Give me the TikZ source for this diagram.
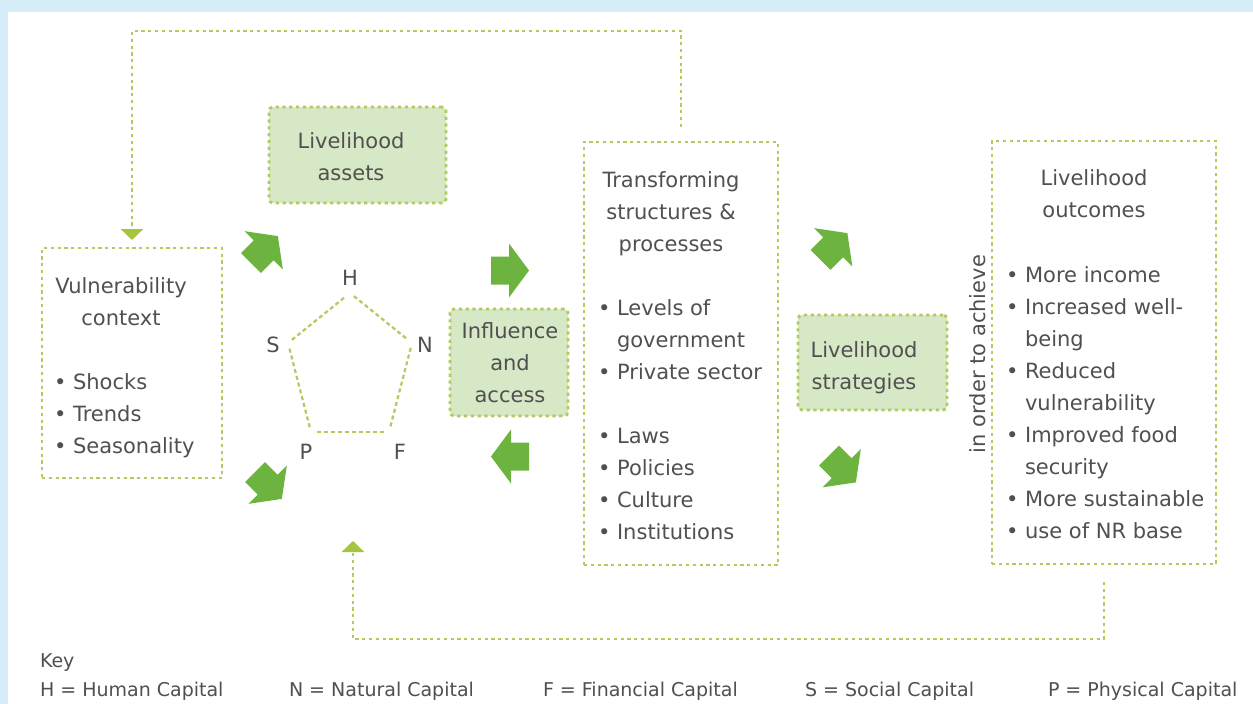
\documentclass[tikz,border=0pt]{standalone}
\usepackage{fontspec}
\setmainfont{DejaVu Sans}
\usetikzlibrary{arrows.meta}
\definecolor{bgblue}{HTML}{D6ECF9}
\definecolor{dotgreen}{HTML}{B0CB5E}
\definecolor{tipgreen}{HTML}{A4C53C}
\definecolor{fillgreen}{HTML}{D6E8C5}
\definecolor{arrowgreen}{HTML}{6CB33F}
\definecolor{txtgray}{HTML}{505050}
\begin{document}
\begin{tikzpicture}[x=1pt,y=-1pt,
  dotline/.style={draw=dotgreen, line width=2.8pt, dash pattern=on 3.2pt off 3.6pt},
  whitebox/.style={dotline, inner sep=0pt, outer sep=0pt},
  greenbox/.style={dotline, fill=fillgreen, rounded corners=4pt, inner sep=0pt, outer sep=0pt},
  conn/.style={dotline, -{Triangle[width=22pt,length=11pt,color=tipgreen,fill=tipgreen]}},
  pentline/.style={draw=dotgreen, line width=2.2pt, dash pattern=on 4pt off 3pt, shorten <=5pt, shorten >=5pt},
  txt/.style={text=txtgray, font=\fontsize{21}{32}\selectfont, inner sep=0pt, outer sep=0pt},
  keytxt/.style={text=txtgray, font=\fontsize{19}{24}\selectfont, inner sep=0pt, outer sep=0pt, anchor=base west},
  blockarrow/.pic={\fill[arrowgreen] (0,-14) -- (18,-14) -- (18,-27) -- (38,0) -- (18,27) -- (18,14) -- (0,14) -- cycle;}
]
\useasboundingbox (0,0) rectangle (1253,704);
\fill[bgblue] (0,0) rectangle (1253,704);
\fill[white] (8,12) rectangle (1253,704);

% boxes
\node[whitebox, minimum width=180pt, minimum height=230pt] (vuln) at (132,363) {};
\node[greenbox, minimum width=177pt, minimum height=96pt] (assets) at (357.5,155) {};
\node[greenbox, minimum width=118pt, minimum height=107pt] (infl) at (509,362.5) {};
\node[whitebox, minimum width=194pt, minimum height=423pt] (trans) at (681,353.5) {};
\node[greenbox, minimum width=149pt, minimum height=95pt] (strat) at (872.5,362.5) {};
\node[whitebox, minimum width=224pt, minimum height=423pt] (outc) at (1104,352.5) {};

% vulnerability context
\node[txt, anchor=base] (vt1) at (121,293) {Vulnerability};
\node[txt, anchor=base] (vt2) at (121,325) {context};
\node[txt, anchor=base west] (vb1) at (54,389) {\textbullet\ Shocks};
\node[txt, anchor=base west] (vb2) at (54,421) {\textbullet\ Trends};
\node[txt, anchor=base west] (vb3) at (54,453) {\textbullet\ Seasonality};

% livelihood assets
\node[txt, anchor=base] (at1) at (351,148) {Livelihood};
\node[txt, anchor=base] (at2) at (351,180) {assets};

% pentagon
\coordinate (pT) at (350,293);
\coordinate (pR) at (412,343);
\coordinate (pBR) at (389,432);
\coordinate (pBL) at (311,432);
\coordinate (pL) at (288,343);
\draw[pentline] (pT) -- (pR);
\draw[pentline] (pR) -- (pBR);
\draw[pentline] (pBR) -- (pBL);
\draw[pentline] (pBL) -- (pL);
\draw[pentline] (pL) -- (pT);
\node[txt] (lH) at (350,278) {H};
\node[txt] (lS) at (273,345) {S};
\node[txt] (lN) at (425,345) {N};
\node[txt] (lP) at (306,452) {P};
\node[txt] (lF) at (400,452) {F};

% influence and access
\node[txt, anchor=base] (it1) at (510,338) {Influence};
\node[txt, anchor=base] (it2) at (510,370) {and};
\node[txt, anchor=base] (it3) at (510,402) {access};

% transforming structures
\node[txt, anchor=base] (tt1) at (671,187) {Transforming};
\node[txt, anchor=base] (tt2) at (671,219) {structures \&};
\node[txt, anchor=base] (tt3) at (671,251) {processes};
\node[txt, anchor=base west] (tb1) at (598,315) {\textbullet\ Levels of};
\node[txt, anchor=base west] (tb1b) at (617,347) {government};
\node[txt, anchor=base west] (tb2) at (598,379) {\textbullet\ Private sector};
\node[txt, anchor=base west] (tb3) at (598,443) {\textbullet\ Laws};
\node[txt, anchor=base west] (tb4) at (598,475) {\textbullet\ Policies};
\node[txt, anchor=base west] (tb5) at (598,507) {\textbullet\ Culture};
\node[txt, anchor=base west] (tb6) at (598,539) {\textbullet\ Institutions};

% livelihood strategies
\node[txt, anchor=base] (st1) at (864,357) {Livelihood};
\node[txt, anchor=base] (st2) at (864,389) {strategies};

% in order to achieve
\node[txt, rotate=90, anchor=base] (ach) at (985,354) {in order to achieve};

% livelihood outcomes
\node[txt, anchor=base] (ot1) at (1094,185) {Livelihood};
\node[txt, anchor=base] (ot2) at (1094,217) {outcomes};
\node[txt, anchor=base west] (ob1) at (1006,282) {\textbullet\ More income};
\node[txt, anchor=base west] (ob2) at (1006,314) {\textbullet\ Increased well-};
\node[txt, anchor=base west] (ob2b) at (1025,346) {being};
\node[txt, anchor=base west] (ob3) at (1006,378) {\textbullet\ Reduced};
\node[txt, anchor=base west] (ob3b) at (1025,410) {vulnerability};
\node[txt, anchor=base west] (ob4) at (1006,442) {\textbullet\ Improved food};
\node[txt, anchor=base west] (ob4b) at (1025,474) {security};
\node[txt, anchor=base west] (ob5) at (1006,506) {\textbullet\ More sustainable};
\node[txt, anchor=base west] (ob6) at (1006,538) {\textbullet\ use of NR base};

% block arrows
\pic[rotate=45] at (251,263) {blockarrow};
\pic[rotate=-45] at (255,472) {blockarrow};
\pic at (491,270.5) {blockarrow};
\pic[rotate=180] at (529,456.5) {blockarrow};
\pic[rotate=45] at (820.5,260) {blockarrow};
\pic[rotate=-45] at (829,455.5) {blockarrow};

% feedback connectors
\draw[conn] ([yshift=15pt]trans.north) -- ++(0,-96) -| ([yshift=8pt]vuln.north);
\coordinate (fbtip) at (353,541);
\draw[conn] ([yshift=-18pt]outc.south) -- ++(0,57) -| (fbtip);

% key
\node[keytxt] (key) at (40,667) {Key};
\node[keytxt] (kH) at (40,696) {H = Human Capital};
\node[keytxt] (kN) at (289,696) {N = Natural Capital};
\node[keytxt] (kF) at (543,696) {F = Financial Capital};
\node[keytxt] (kS) at (805,696) {S = Social Capital};
\node[keytxt] (kP) at (1048,696) {P = Physical Capital};
\end{tikzpicture}
\end{document}
